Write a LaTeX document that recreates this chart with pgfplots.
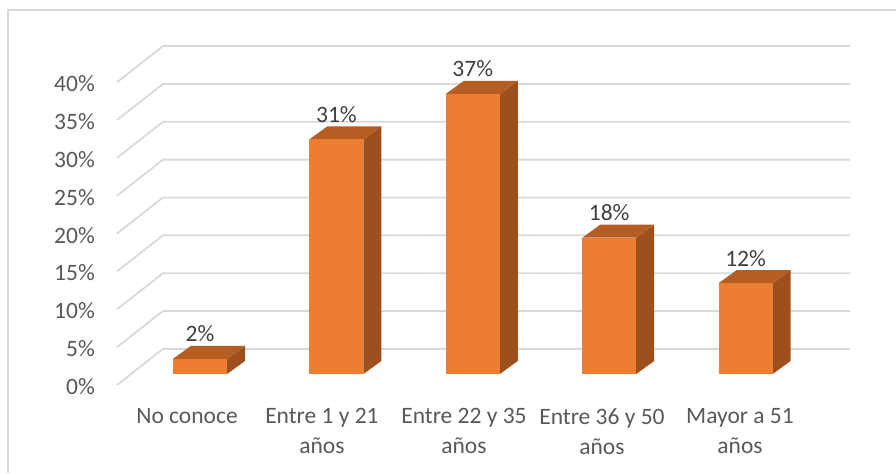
\documentclass[border=0pt]{standalone}
\usepackage{fontspec}
\setmainfont{Carlito}
\usepackage{pgfplots}
\usepackage{pgfplotstable}
\pgfplotsset{compat=1.18}
\definecolor{barfront}{HTML}{ED7D31}
\definecolor{bartop}{HTML}{B65E22}
\definecolor{barside}{HTML}{9B501D}
\definecolor{gridc}{HTML}{D9D9D9}
\definecolor{tickc}{HTML}{595959}
\definecolor{labc}{HTML}{404040}

\pgfplotstableread{
x v
0 2
1 31
2 37
3 18
4 12
}\bardata

\pgfplotstableread{
xo fv yo
-0.198 0 0
-0.198 1 0
0.198 1 0
0.198 0 0
}\frontface
\pgfplotstableread{
xo fv yo
-0.198 1 0
-0.066 1 1.72
0.330 1 1.72
0.198 1 0
}\topface
\pgfplotstableread{
xo fv yo
0.198 0 0
0.330 0 1.72
0.330 1 1.72
0.198 1 0
}\sideface
\pgfplotstableread{
x d
-0.6085 -1.45
-0.2713 3.32
4.7654 3.32
}\gridshape

\newcommand{\chartfont}{\fontsize{23.5bp}{30bp}\selectfont}

\begin{document}
\begin{tikzpicture}
\begin{axis}[
  x=136.4bp, y=7.57bp,
  xmin=-0.6085, xmax=4.7654, ymin=-1.45, ymax=43.4,
  clip=false,
  axis line style={draw=none},
  tick style={draw=none},
  major tick length=0pt,
  ytick={0,5,...,40},
  yticklabels={0\%,5\%,10\%,15\%,20\%,25\%,30\%,35\%,40\%},
  yticklabel style={anchor=east, inner sep=0pt, xshift=-22bp, yshift=-12.5bp, font=\chartfont, text=tickc},
  xtick={-0.095,0.894,1.935,2.947,3.959},
  xticklabels={{No conoce},{Entre 1 y 21\\años},{Entre 22 y 35\\años},{Entre 36 y 50\\años},{Mayor a 51\\años}},
  xticklabel style={anchor=north, align=center, inner sep=0pt, yshift=-23bp, font=\chartfont, text=tickc},
]
\pgfplotsinvokeforeach{0,5,...,40}{
  \addplot[gridc, line width=1.8bp, mark=none] table[x=x, y expr=\thisrow{d}+#1] {\gridshape};
}
\pgfplotsinvokeforeach{0,...,4}{
  \pgfplotstablegetelem{#1}{v}\of\bardata
  \edef\vv{\pgfplotsretval}
  \addplot[draw=none, fill=barside, mark=none] table[x expr=#1+\thisrow{xo}, y expr=\thisrow{fv}*\vv+\thisrow{yo}] {\sideface};
  \addplot[draw=none, fill=bartop, mark=none] table[x expr=#1+\thisrow{xo}, y expr=\thisrow{fv}*\vv+\thisrow{yo}] {\topface};
  \addplot[draw=none, fill=barfront, mark=none] table[x expr=#1+\thisrow{xo}, y expr=\thisrow{fv}*\vv+\thisrow{yo}] {\frontface};
}
\addplot[draw=none, mark=none, point meta=explicit symbolic,
  nodes near coords={\pgfplotspointmeta\%},
  every node near coord/.append style={anchor=center, inner sep=0pt, yshift=12bp, font=\chartfont, text=labc}]
  table[x=x, y expr=\thisrow{v}+1.72, meta=v] {\bardata};
\draw[gridc, line width=1.5bp] (axis cs:-1.4076,-13.078) -- (axis cs:-1.4076,48.085) -- (axis cs:5.1026,48.085);
\coordinate (bbl) at (axis cs:-1.4663,-13.078);
\coordinate (btr) at (axis cs:5.1026,49.406);
\end{axis}
\pgfresetboundingbox
\useasboundingbox (bbl) rectangle (btr);
\end{tikzpicture}
\end{document}
